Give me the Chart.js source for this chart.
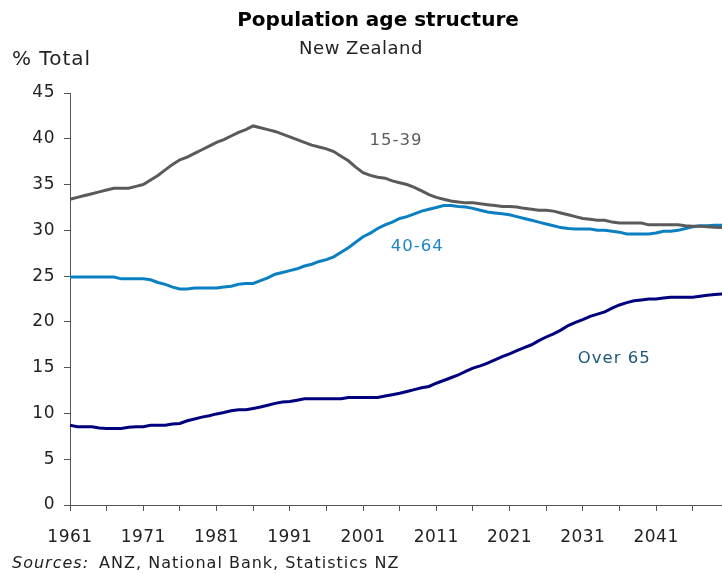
<!DOCTYPE html>
<html>
<head>
<meta charset="utf-8">
<title>Population age structure</title>
<script src="https://cdn.jsdelivr.net/npm/chart.js@4.4.1/dist/chart.umd.min.js"></script>
<style>
  html, body { margin: 0; padding: 0; background: #fff; }
  #wrap { width: 722px; height: 574px; }
</style>
</head>
<body>
<div id="wrap"><canvas id="chart" width="722" height="574"></canvas></div>
<script>
// annual shares of total population, %
const years = [];
for (let y = 1961; y <= 2050; y++) years.push(y);

const age15to39 = [
  33.4, 33.6, 33.8, 34.0, 34.2, 34.4, 34.6, 34.6, 34.6, 34.8,
  35.0, 35.5, 36.0, 36.6, 37.2, 37.7, 38.0, 38.4, 38.8, 39.2,
  39.6, 39.9, 40.3, 40.7, 41.0, 41.4, 41.2, 41.0, 40.8, 40.5,
  40.2, 39.9, 39.6, 39.3, 39.1, 38.9, 38.6, 38.1, 37.6, 36.9,
  36.3, 36.0, 35.8, 35.7, 35.4, 35.2, 35.0, 34.7, 34.3, 33.9,
  33.6, 33.4, 33.2, 33.1, 33.0, 33.0, 32.9, 32.8, 32.7, 32.6,
  32.6, 32.55, 32.4, 32.3, 32.2, 32.2, 32.1, 31.9, 31.7, 31.5,
  31.3, 31.2, 31.1, 31.1, 30.9, 30.8, 30.8, 30.8, 30.8, 30.6,
  30.6, 30.6, 30.6, 30.6, 30.5, 30.45, 30.45, 30.4, 30.35, 30.3
];

const age40to64 = [
  24.9, 24.9, 24.9, 24.9, 24.9, 24.9, 24.9, 24.7, 24.7, 24.7,
  24.7, 24.6, 24.3, 24.1, 23.8, 23.6, 23.6, 23.7, 23.7, 23.7,
  23.7, 23.8, 23.9, 24.1, 24.2, 24.2, 24.5, 24.8, 25.2, 25.4,
  25.6, 25.8, 26.1, 26.3, 26.6, 26.8, 27.1, 27.6, 28.1, 28.7,
  29.3, 29.7, 30.2, 30.6, 30.9, 31.3, 31.5, 31.8, 32.1, 32.3,
  32.5, 32.7, 32.7, 32.6, 32.55, 32.4, 32.2, 32.0, 31.9, 31.8,
  31.7, 31.5, 31.3, 31.1, 30.9, 30.7, 30.5, 30.3, 30.2, 30.15,
  30.15, 30.15, 30.0, 30.0, 29.9, 29.8, 29.6, 29.6, 29.6, 29.6,
  29.7, 29.9, 29.9, 30.0, 30.2, 30.4, 30.5, 30.5, 30.55, 30.55
];

const over65 = [
  8.7, 8.55, 8.55, 8.55, 8.4, 8.35, 8.35, 8.35, 8.5, 8.55,
  8.55, 8.7, 8.7, 8.7, 8.85, 8.9, 9.2, 9.4, 9.6, 9.75,
  9.95, 10.1, 10.3, 10.4, 10.4, 10.55, 10.7, 10.9, 11.1, 11.25,
  11.3, 11.45, 11.6, 11.6, 11.6, 11.6, 11.6, 11.6, 11.75, 11.75,
  11.75, 11.75, 11.75, 11.9, 12.05, 12.2, 12.4, 12.6, 12.8, 12.95,
  13.3, 13.6, 13.9, 14.2, 14.6, 14.95, 15.2, 15.5, 15.85, 16.2,
  16.5, 16.85, 17.2, 17.5, 17.95, 18.35, 18.7, 19.1, 19.6, 19.95,
  20.25, 20.6, 20.85, 21.1, 21.5, 21.85, 22.1, 22.3, 22.4, 22.5,
  22.5, 22.6, 22.7, 22.7, 22.7, 22.7, 22.8, 22.9, 23.0, 23.05
];

const yTicks = [0, 5, 10, 15, 20, 25, 30, 35, 40, 45];

const FONT = "'DejaVu Sans', Verdana, sans-serif";
const axisGrey = '#555';

// in-chart series names, placed in data units (year, %)
const seriesLabels = [
  { text: '15-39', year: 2005.5, value: 39.8, color: '#5c5c5c' },
  { text: '40-64', year: 2008.4, value: 28.2, color: '#1a86c8' },
  { text: 'Over 65', year: 2035.3, value: 16.0, color: '#1d5878' }
];

// slightly wider tracking for all canvas text
const spacingPlugin = {
  id: 'spacing',
  beforeDraw(chart) { chart.ctx.letterSpacing = '0.5px'; }
};

const textPlugin = {
  id: 'texts',
  afterDraw(chart) {
    const ctx = chart.ctx;
    const x = chart.scales.x, y = chart.scales.y;
    ctx.save();
    ctx.textBaseline = 'middle';

    ctx.letterSpacing = '0px';
    ctx.fillStyle = '#000';
    ctx.textAlign = 'center';
    ctx.font = 'bold 20px ' + FONT;
    ctx.fillText('Population age structure', 378, 21);

    ctx.letterSpacing = '0.5px';
    ctx.fillStyle = '#222';
    ctx.font = '18px ' + FONT;
    ctx.fillText('New Zealand', 361, 49);

    ctx.letterSpacing = '1px';
    ctx.textAlign = 'left';
    ctx.font = '20px ' + FONT;
    ctx.fillText('% Total', 12, 60);

    seriesLabels.forEach(l => {
      ctx.fillStyle = l.color;
      ctx.textAlign = 'center';
      ctx.font = '16.5px ' + FONT;
      ctx.fillText(l.text, x.getPixelForValue(l.year - years[0]), y.getPixelForValue(l.value));
    });

    ctx.textAlign = 'left';
    ctx.fillStyle = '#222';
    ctx.font = 'italic 16px ' + FONT;
    const lead = 'Sources:';
    ctx.fillText(lead, 12, 564);
    const w = ctx.measureText(lead).width;
    ctx.font = '16px ' + FONT;
    ctx.fillText(' ANZ, National Bank, Statistics NZ', 12 + w + 4, 564);
    ctx.restore();
  }
};

function line(label, data, color) {
  return {
    label: label,
    data: data,
    borderColor: color,
    borderWidth: 3,
    pointRadius: 0,
    tension: 0,
    fill: false
  };
}

new Chart(document.getElementById('chart').getContext('2d'), {
  type: 'line',
  data: {
    labels: years,
    datasets: [
      line('15-39', age15to39, '#5a5a5a'),
      line('40-64', age40to64, '#0a80c2'),
      line('Over 65', over65, '#00007f')
    ]
  },
  options: {
    responsive: false,
    animation: false,
    layout: { padding: { top: 93, left: 0, right: 0, bottom: 0 } },
    plugins: {
      legend: { display: false },
      tooltip: { enabled: false }
    },
    scales: {
      x: {
        type: 'category',
        offset: false,
        grid: { drawOnChartArea: false, tickLength: 6, color: axisGrey },
        border: { color: axisGrey, width: 1 },
        ticks: {
          autoSkip: false,
          maxRotation: 0,
          padding: 16,
          color: '#222',
          font: { family: FONT, size: 17 },
          callback: function (value, index) {
            const yr = years[index];
            const n = yr - years[0];
            if (n % 10 === 0) return String(yr);
            if (n % 5 === 0) return '';
            return null;
          }
        },
        afterFit(scale) { scale.height = 69; }
      },
      y: {
        min: 0,
        max: 45,
        afterBuildTicks(scale) { scale.ticks = yTicks.map(v => ({ value: v })); },
        grid: { drawOnChartArea: false, tickLength: 6, color: axisGrey },
        border: { color: axisGrey, width: 1 },
        ticks: {
          padding: 9,
          color: '#222',
          font: { family: FONT, size: 17 }
        },
        afterFit(scale) { scale.width = 70; }
      }
    }
  },
  plugins: [spacingPlugin, textPlugin]
});
</script>
</body>
</html>
